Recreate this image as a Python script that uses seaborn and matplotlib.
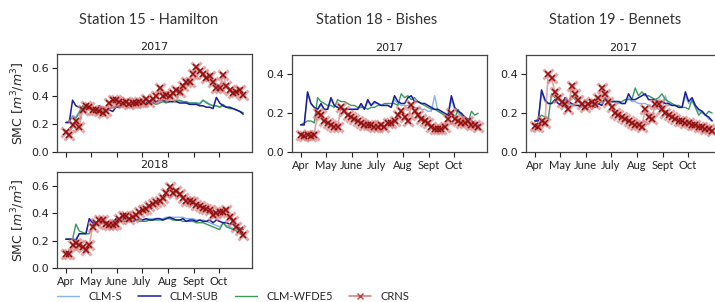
import pandas as pd
import matplotlib
matplotlib.use("Agg")
import matplotlib.pyplot as plt
import seaborn as sns
from matplotlib.lines import Line2D


# 4-day sampling, Apr 1 -> Oct 30
dates_2017 = pd.date_range("2017-04-01", periods=54, freq="4D")
dates_2018 = pd.date_range("2018-04-01", periods=54, freq="4D")
month_labels = ["Apr", "May", "June", "July", "Aug", "Sept", "Oct"]

# Station 15 - Hamilton, 2017
ham17_s = [0.21, 0.22, 0.26, 0.25, 0.29, 0.33, 0.32, 0.31, 0.30, 0.30, 0.31, 0.30, 0.30, 0.31, 0.32, 0.33, 0.33, 0.33,
           0.34, 0.34, 0.34, 0.34, 0.34, 0.35, 0.35, 0.35, 0.35, 0.35, 0.35, 0.36, 0.36, 0.36, 0.36, 0.36, 0.36, 0.36,
           0.35, 0.35, 0.35, 0.35, 0.35, 0.37, 0.36, 0.34, 0.33, 0.33, 0.32, 0.33, 0.32, 0.31, 0.31, 0.30, 0.29, 0.28]
ham17_sub = [0.21, 0.21, 0.37, 0.33, 0.32, 0.31, 0.31, 0.31, 0.30, 0.30, 0.33, 0.31, 0.30, 0.30, 0.29, 0.32, 0.32, 0.33,
             0.33, 0.33, 0.34, 0.34, 0.34, 0.35, 0.35, 0.35, 0.36, 0.36, 0.37, 0.37, 0.36, 0.36, 0.36, 0.36, 0.35, 0.35,
             0.35, 0.34, 0.34, 0.34, 0.33, 0.33, 0.32, 0.32, 0.31, 0.39, 0.35, 0.33, 0.32, 0.32, 0.31, 0.30, 0.29, 0.27]
ham17_wfde5 = [0.21, 0.22, 0.25, 0.24, 0.28, 0.33, 0.32, 0.31, 0.31, 0.30, 0.30, 0.30, 0.29, 0.31, 0.32, 0.32, 0.33, 0.33,
               0.33, 0.34, 0.33, 0.34, 0.34, 0.34, 0.35, 0.35, 0.35, 0.34, 0.35, 0.36, 0.35, 0.36, 0.36, 0.37, 0.37, 0.36,
               0.36, 0.35, 0.35, 0.35, 0.34, 0.37, 0.35, 0.34, 0.33, 0.33, 0.32, 0.34, 0.32, 0.31, 0.31, 0.30, 0.29, 0.28]
ham17_crns = [0.14, 0.12, 0.19, 0.22, 0.18, 0.30, 0.33, 0.32, 0.30, 0.30, 0.29, 0.28, 0.29, 0.35, 0.37, 0.37, 0.36, 0.35,
              0.36, 0.34, 0.35, 0.35, 0.36, 0.36, 0.38, 0.36, 0.38, 0.40, 0.46, 0.40, 0.41, 0.40, 0.42, 0.44, 0.43, 0.47,
              0.50, 0.50, 0.56, 0.61, 0.58, 0.56, 0.53, 0.54, 0.50, 0.46, 0.46, 0.55, 0.47, 0.44, 0.42, 0.43, 0.44, 0.41]

# Station 15 - Hamilton, 2018
ham18_s = [0.21, 0.21, 0.21, 0.21, 0.25, 0.25, 0.25, 0.35, 0.33, 0.32, 0.33, 0.33, 0.33, 0.32, 0.34, 0.35, 0.35, 0.35,
           0.35, 0.35, 0.35, 0.35, 0.35, 0.35, 0.35, 0.36, 0.36, 0.36, 0.36, 0.36, 0.37, 0.37, 0.37, 0.37, 0.37, 0.37,
           0.36, 0.36, 0.36, 0.35, 0.35, 0.35, 0.34, 0.33, 0.32, 0.31, 0.30, 0.33, 0.31, 0.30, 0.29, 0.28, 0.27, 0.25]
ham18_sub = [0.21, 0.21, 0.21, 0.20, 0.25, 0.25, 0.25, 0.36, 0.33, 0.33, 0.34, 0.33, 0.32, 0.33, 0.33, 0.36, 0.35, 0.35,
             0.36, 0.35, 0.34, 0.35, 0.36, 0.35, 0.36, 0.35, 0.35, 0.36, 0.36, 0.35, 0.36, 0.37, 0.36, 0.35, 0.35, 0.36,
             0.34, 0.35, 0.35, 0.34, 0.35, 0.34, 0.34, 0.35, 0.33, 0.35, 0.34, 0.33, 0.33, 0.32, 0.32, 0.31, 0.29, 0.28]
ham18_wfde5 = [0.21, 0.21, 0.21, 0.32, 0.27, 0.26, 0.25, 0.25, 0.32, 0.31, 0.32, 0.33, 0.33, 0.32, 0.34, 0.34, 0.34, 0.34,
               0.34, 0.34, 0.34, 0.35, 0.34, 0.34, 0.34, 0.35, 0.35, 0.35, 0.35, 0.35, 0.36, 0.36, 0.35, 0.35, 0.35, 0.34,
               0.34, 0.34, 0.34, 0.33, 0.33, 0.33, 0.32, 0.31, 0.30, 0.29, 0.28, 0.33, 0.30, 0.29, 0.28, 0.27, 0.25, 0.23]
ham18_crns = [0.10, 0.10, 0.17, 0.18, 0.17, 0.15, 0.13, 0.17, 0.30, 0.33, 0.35, 0.35, 0.32, 0.31, 0.31, 0.32, 0.36, 0.38,
              0.38, 0.36, 0.37, 0.39, 0.41, 0.42, 0.43, 0.45, 0.47, 0.48, 0.49, 0.51, 0.55, 0.59, 0.55, 0.56, 0.54, 0.51,
              0.49, 0.49, 0.48, 0.46, 0.45, 0.44, 0.43, 0.42, 0.39, 0.40, 0.41, 0.41, 0.42, 0.37, 0.34, 0.30, 0.28, 0.24]

# Station 18 - Bishes, 2017
bis17_s = [0.14, 0.14, 0.30, 0.25, 0.23, 0.22, 0.24, 0.22, 0.22, 0.27, 0.24, 0.23, 0.22, 0.22, 0.22, 0.22, 0.22, 0.22,
           0.24, 0.22, 0.26, 0.24, 0.25, 0.25, 0.24, 0.24, 0.24, 0.23, 0.27, 0.25, 0.24, 0.24, 0.24, 0.24, 0.23, 0.23,
           0.22, 0.22, 0.21, 0.21, 0.29, 0.21, 0.20, 0.19, 0.18, 0.27, 0.22, 0.20, 0.19, 0.18, 0.17, 0.16, 0.15, 0.14]
bis17_sub = [0.14, 0.14, 0.31, 0.25, 0.23, 0.22, 0.25, 0.22, 0.22, 0.28, 0.24, 0.23, 0.22, 0.22, 0.22, 0.22, 0.22, 0.22,
             0.25, 0.22, 0.27, 0.24, 0.26, 0.25, 0.24, 0.24, 0.24, 0.23, 0.29, 0.26, 0.25, 0.25, 0.28, 0.29, 0.26, 0.26,
             0.25, 0.25, 0.24, 0.23, 0.22, 0.22, 0.21, 0.20, 0.19, 0.29, 0.23, 0.21, 0.20, 0.18, 0.17, 0.16, 0.15, 0.14]
bis17_wfde5 = [0.14, 0.15, 0.16, 0.16, 0.15, 0.28, 0.26, 0.25, 0.24, 0.24, 0.23, 0.27, 0.26, 0.26, 0.25, 0.24, 0.24, 0.23,
               0.23, 0.23, 0.22, 0.23, 0.23, 0.24, 0.24, 0.25, 0.25, 0.25, 0.25, 0.24, 0.30, 0.28, 0.29, 0.27, 0.28, 0.26,
               0.25, 0.24, 0.23, 0.22, 0.22, 0.21, 0.20, 0.19, 0.19, 0.19, 0.17, 0.22, 0.19, 0.16, 0.15, 0.21, 0.19, 0.20]
bis17_crns = [0.09, 0.08, 0.09, 0.085, 0.09, 0.20, 0.19, 0.16, 0.15, 0.14, 0.13, 0.13, 0.23, 0.21, 0.19, 0.18, 0.17, 0.16,
              0.15, 0.14, 0.14, 0.14, 0.13, 0.13, 0.14, 0.13, 0.15, 0.15, 0.16, 0.19, 0.21, 0.18, 0.16, 0.24, 0.21, 0.19,
              0.17, 0.16, 0.15, 0.13, 0.12, 0.12, 0.12, 0.13, 0.17, 0.20, 0.17, 0.16, 0.15, 0.15, 0.16, 0.14, 0.14, 0.13]

# Station 19 - Bennets, 2017
ben17_s = [0.16, 0.16, 0.31, 0.26, 0.25, 0.25, 0.26, 0.25, 0.24, 0.27, 0.25, 0.24, 0.24, 0.24, 0.23, 0.23, 0.23, 0.24,
           0.23, 0.25, 0.24, 0.27, 0.26, 0.26, 0.26, 0.25, 0.25, 0.25, 0.28, 0.26, 0.26, 0.25, 0.25, 0.25, 0.24, 0.23,
           0.23, 0.22, 0.22, 0.29, 0.24, 0.24, 0.24, 0.23, 0.23, 0.29, 0.25, 0.26, 0.23, 0.21, 0.20, 0.19, 0.17, 0.16]
ben17_sub = [0.16, 0.16, 0.32, 0.27, 0.25, 0.25, 0.27, 0.25, 0.24, 0.28, 0.26, 0.25, 0.24, 0.24, 0.24, 0.23, 0.23, 0.24,
             0.23, 0.25, 0.24, 0.28, 0.26, 0.26, 0.26, 0.26, 0.25, 0.25, 0.30, 0.27, 0.27, 0.28, 0.29, 0.30, 0.27, 0.27,
             0.27, 0.26, 0.26, 0.25, 0.25, 0.24, 0.24, 0.23, 0.23, 0.31, 0.26, 0.28, 0.24, 0.22, 0.21, 0.19, 0.18, 0.16]
ben17_wfde5 = [0.16, 0.17, 0.19, 0.18, 0.17, 0.30, 0.28, 0.27, 0.26, 0.26, 0.25, 0.29, 0.27, 0.26, 0.25, 0.25, 0.24, 0.24,
               0.25, 0.25, 0.26, 0.27, 0.26, 0.26, 0.26, 0.26, 0.26, 0.27, 0.27, 0.27, 0.33, 0.29, 0.31, 0.29, 0.29, 0.28,
               0.27, 0.28, 0.30, 0.27, 0.26, 0.25, 0.24, 0.24, 0.23, 0.23, 0.22, 0.27, 0.23, 0.19, 0.21, 0.19, 0.21, 0.20]
ben17_crns = [0.135, 0.13, 0.16, 0.15, 0.40, 0.38, 0.31, 0.28, 0.26, 0.25, 0.22, 0.34, 0.30, 0.27, 0.25, 0.23, 0.25, 0.26,
              0.25, 0.28, 0.33, 0.30, 0.26, 0.23, 0.20, 0.19, 0.18, 0.17, 0.16, 0.15, 0.14, 0.14, 0.13, 0.22, 0.18, 0.17,
              0.25, 0.25, 0.22, 0.20, 0.19, 0.18, 0.17, 0.16, 0.16, 0.15, 0.15, 0.14, 0.14, 0.13, 0.13, 0.12, 0.12, 0.11]

colors = {"CLM-S": "#86b4ea", "CLM-SUB": "#1c1c9c", "CLM-WFDE5": "#3a9a5c", "CRNS": "#8e1010"}
crns_halo = "#d98080"

sns.set_style("ticks")
plt.rcParams["font.family"] = ["DejaVu Sans"]
plt.rcParams["axes.edgecolor"] = "#444444"
plt.rcParams["axes.linewidth"] = 0.9

W, H = 715, 302
fig = plt.figure(figsize=(W / 100, H / 100), dpi=100)


def px_axes(left, top, width, height):
    return fig.add_axes([left / W, 1 - (top + height) / H, width / W, height / H])


def draw(ax, dates, s, sub, wfde5, crns, ymax, yticks, title, show_xlabels):
    sns.lineplot(x=dates, y=s, color=colors["CLM-S"], lw=1.0, ax=ax)
    sns.lineplot(x=dates, y=wfde5, color=colors["CLM-WFDE5"], lw=1.0, ax=ax)
    sns.lineplot(x=dates, y=sub, color=colors["CLM-SUB"], lw=1.1, ax=ax)
    # CRNS: pale line and halo, then dark crosses on top
    sns.lineplot(x=dates, y=crns, color=crns_halo, lw=1.2, alpha=0.7, marker="x",
                 markersize=7, markeredgewidth=2.2, markeredgecolor=crns_halo, ax=ax)
    sns.lineplot(x=dates, y=crns, color=colors["CRNS"], lw=0, marker="x",
                 markersize=5, markeredgewidth=1.1, markeredgecolor=colors["CRNS"], ax=ax)
    ax.set_ylim(0, ymax)
    ax.set_yticks(yticks)
    ax.set_yticklabels([f"{t:.1f}" for t in yticks])
    ticks = pd.date_range(dates[0], periods=7, freq="MS")
    ax.set_xticks(ticks)
    if show_xlabels:
        ax.set_xticklabels(month_labels, fontfamily="Lato", fontsize=8.5)
    else:
        ax.set_xticklabels([])
    ax.tick_params(axis="both", labelsize=8, length=3.5, width=0.8, pad=2, colors="#222222")
    ax.set_title(title, fontsize=8, pad=3, color="#222222")
    ax.set_xlabel("")
    ax.set_ylabel("")
    for sp in ax.spines.values():
        sp.set_visible(True)


ax1 = px_axes(57, 54, 195, 98)
draw(ax1, dates_2017, ham17_s, ham17_sub, ham17_wfde5, ham17_crns, 0.7, [0.0, 0.2, 0.4, 0.6], "2017", False)
ax1.set_ylabel("SMC [$m^3/m^3$]", fontsize=9, labelpad=3)

ax2 = px_axes(57, 172, 195, 96)
draw(ax2, dates_2018, ham18_s, ham18_sub, ham18_wfde5, ham18_crns, 0.7, [0.0, 0.2, 0.4, 0.6], "2018", True)
ax2.set_ylabel("SMC [$m^3/m^3$]", fontsize=9, labelpad=3)

ax3 = px_axes(292, 55, 195, 97)
draw(ax3, dates_2017, bis17_s, bis17_sub, bis17_wfde5, bis17_crns, 0.5, [0.0, 0.2, 0.4], "2017", True)

ax4 = px_axes(526, 55, 195, 97)
draw(ax4, dates_2017, ben17_s, ben17_sub, ben17_wfde5, ben17_crns, 0.5, [0.0, 0.2, 0.4], "2017", True)

fig.text(149 / W, 1 - 20 / H, "Station 15 - Hamilton", ha="center", va="center", fontsize=10.5,
         fontfamily="Lato", color="#333333")
fig.text(377 / W, 1 - 20 / H, "Station 18 - Bishes", ha="center", va="center", fontsize=10.5,
         fontfamily="Lato", color="#333333")
fig.text(615 / W, 1 - 20 / H, "Station 19 - Bennets", ha="center", va="center", fontsize=10.5,
         fontfamily="Lato", color="#333333")

handles = [
    Line2D([], [], color=colors["CLM-S"], lw=1.0),
    Line2D([], [], color=colors["CLM-SUB"], lw=1.1),
    Line2D([], [], color=colors["CLM-WFDE5"], lw=1.0),
    Line2D([], [], color=crns_halo, lw=1.2, marker="x", markersize=5,
           markeredgewidth=1.0, markeredgecolor="#c04040"),
]
fig.legend(handles, list(colors.keys()), loc="center left", bbox_to_anchor=(57 / W, 6 / H), ncol=4,
           frameon=False, borderpad=0, borderaxespad=0, handlelength=2.0, handletextpad=0.8,
           columnspacing=1.5, prop={"family": "Lato", "size": 8})

fig.savefig("out.png", dpi=100)
